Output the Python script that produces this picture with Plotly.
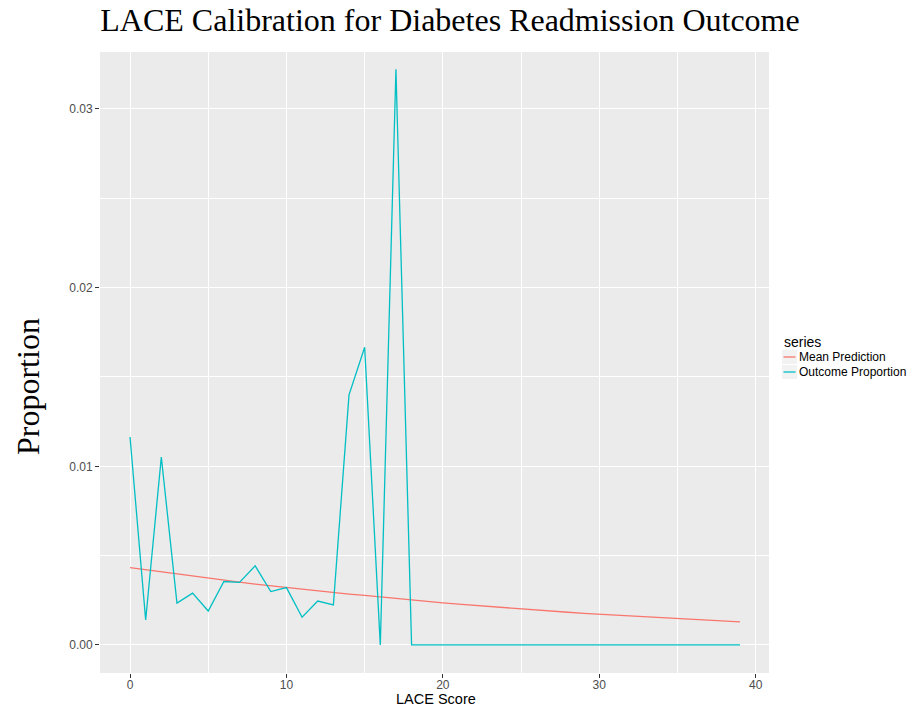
import plotly.graph_objects as go

lace_score = list(range(40))
mean_prediction = [0.00433, 0.00421, 0.00408, 0.00396, 0.00385, 0.00373, 0.00362, 0.00352,
                   0.00341, 0.00331, 0.00321, 0.00312, 0.00303, 0.00294, 0.00285, 0.00277,
                   0.00268, 0.00260, 0.00252, 0.00244, 0.00236, 0.00228, 0.00221, 0.00214,
                   0.00208, 0.00201, 0.00195, 0.00189, 0.00183, 0.00177, 0.00172, 0.00167,
                   0.00162, 0.00157, 0.00152, 0.00147, 0.00142, 0.00138, 0.00133, 0.00129]
outcome_proportion = [0.01164, 0.00140, 0.01052, 0.00234, 0.00290, 0.00190, 0.00355, 0.00350,
                      0.00443, 0.00299, 0.00321, 0.00155, 0.00246, 0.00224, 0.01400, 0.01666,
                      0.0, 0.03222, 0.0, 0.0, 0.0, 0.0, 0.0, 0.0,
                      0.0, 0.0, 0.0, 0.0, 0.0, 0.0, 0.0, 0.0,
                      0.0, 0.0, 0.0, 0.0, 0.0, 0.0, 0.0, 0.0]
series_names = ["Mean Prediction", "Outcome Proportion"]
series_colors = ["#F8766D", "#00BFC4"]
x_ticks = [0, 10, 20, 30, 40]
y_ticks = [0.00, 0.01, 0.02, 0.03]

W, H = 912, 712
ML, MR, MT, MB = 100, 143, 52, 39
PW, PH = W - ML - MR, H - MT - MB

fig = go.Figure()
for name, vals, col in zip(series_names, [mean_prediction, outcome_proportion], series_colors):
    fig.add_trace(go.Scatter(x=lace_score, y=vals, mode="lines", name=name,
                             line=dict(color=col, width=1.3), showlegend=False))

axis_common = dict(
    showgrid=True, gridcolor="white", gridwidth=1.1, zeroline=False,
    ticks="outside", ticklen=4, tickcolor="#333333", tickwidth=1,
    tickfont=dict(family="Liberation Sans", size=12, color="#4D4D4D"),
    showline=False, automargin=False,
)

fig.update_layout(
    width=W, height=H,
    margin=dict(l=ML, r=MR, t=MT, b=MB),
    paper_bgcolor="white", plot_bgcolor="#EBEBEB",
    title=dict(text="LACE Calibration for Diabetes Readmission Outcome",
               font=dict(family="Liberation Serif", size=32, color="black"),
               xref="container", x=450 / W, xanchor="center",
               yref="container", y=1 - 20 / H, yanchor="middle"),
    xaxis=dict(range=[-1.92, 40.85], tickvals=x_ticks, ticklabelstandoff=-3,
               minor=dict(dtick=5, tick0=0, showgrid=True, gridcolor="white", gridwidth=0.5, ticks=""),
               **axis_common),
    yaxis=dict(range=[-0.00157, 0.03319], tickvals=y_ticks, tickformat=".2f",
               minor=dict(dtick=0.005, tick0=0, showgrid=True, gridcolor="white", gridwidth=0.5, ticks=""),
               **axis_common),
)

def px_x(px):
    return (px - ML) / PW

def px_y(py):
    return (H - MB - py) / PH

# Axis titles
fig.add_annotation(text="LACE Score", xref="paper", yref="paper",
                   x=px_x(436), y=px_y(699), xanchor="center", yanchor="middle",
                   showarrow=False, font=dict(family="Liberation Sans", size=14.5, color="black"))
fig.add_annotation(text="Proportion", textangle=-90, xref="paper", yref="paper",
                   x=px_x(28), y=px_y(387), xanchor="center", yanchor="middle",
                   showarrow=False, font=dict(family="Liberation Serif", size=32, color="black"))

# Legend (ggplot style)
fig.add_annotation(text="series", xref="paper", yref="paper", x=px_x(782), y=px_y(342),
                   xanchor="left", yanchor="middle", showarrow=False,
                   font=dict(family="Liberation Sans", size=14, color="black"))
for i, (name, col) in enumerate(zip(series_names, series_colors)):
    cy = 357 + i * 15
    fig.add_shape(type="rect", xref="paper", yref="paper",
                  x0=px_x(782), x1=px_x(797), y0=px_y(cy - 7), y1=px_y(cy + 7),
                  fillcolor="#F2F2F2", line=dict(width=0), layer="below")
    fig.add_shape(type="line", xref="paper", yref="paper",
                  x0=px_x(783.5), x1=px_x(795.5), y0=px_y(cy), y1=px_y(cy),
                  line=dict(color=col, width=1.3))
    fig.add_annotation(text=name, xref="paper", yref="paper", x=px_x(797), y=px_y(cy),
                       xanchor="left", yanchor="middle", showarrow=False,
                       font=dict(family="Liberation Sans", size=12, color="black"))

fig.write_html("out.html")
